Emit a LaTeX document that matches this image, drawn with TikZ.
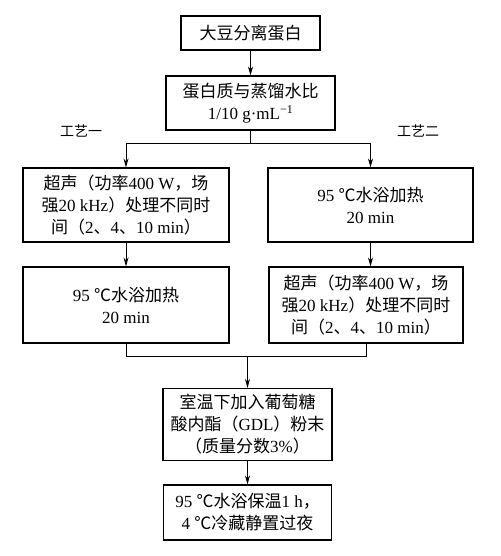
\documentclass[tikz,border=0pt]{standalone}
\usepackage{fontspec}
\setmainfont{Liberation Serif}
\newfontfamily\cjk{Noto Sans CJK SC}
\usetikzlibrary{arrows.meta}

\newcommand{\usound}{{\cjk 超声（功率}400 W{\cjk ，场}\\{\cjk 强}20 kHz{\cjk ）处理不同时}\\{\cjk 间（}2{\cjk 、}4{\cjk 、}10 min{\cjk ）}}
\newcommand{\hotbath}{95 {\cjk ℃水浴加热}\\20 min}

\begin{document}
\begin{tikzpicture}[x=1pt,y=-1pt,>={Stealth[length=9pt,width=5pt]},line width=0.9pt]
    \tikzstyle{stepbox}=[draw,line width=1.1pt,align=center,inner sep=0pt,font=\fontsize{17}{22}\selectfont]
    \tikzstyle{route}=[font=\cjk\fontsize{14}{14}\selectfont]
    \useasboundingbox (0,0) rectangle (500,556);

    % common steps at the top
    \node[stepbox,minimum width=139pt,minimum height=34pt] (soy) at (250.5,33) {\cjk 大豆分离蛋白};
    \node[stepbox,minimum width=169pt,minimum height=54pt] (ratio) at (250.5,103)
        {{\cjk 蛋白质与蒸馏水比}\\1/10 g·mL\textsuperscript{−1}};
    \node[route] (route1) at (81,131) {工艺一};
    \node[route] (route2) at (418,131) {工艺二};

    % left branch
    \node[stepbox,minimum width=206pt,minimum height=74pt] (left1) at (126,205) {\usound};
    \node[stepbox,minimum width=206pt,minimum height=76pt] (left2) at (126,305) {\hotbath};

    % right branch
    \node[stepbox,minimum width=205pt,minimum height=74pt] (right1) at (370.5,205) {\hotbath};
    \node[stepbox,minimum width=194pt,minimum height=76pt] (right2) at (366,305) {\usound};

    % common steps at the bottom
    \node[stepbox,minimum width=169pt,minimum height=72pt] (gdl) at (247.5,424.5)
        {{\cjk 室温下加入葡萄糖}\\{\cjk 酸内酯（}GDL{\cjk ）粉末}\\{\cjk （质量分数}3\%{\cjk ）}};
    \node[stepbox,minimum width=168pt,minimum height=55pt] (gel) at (247.5,512.5)
        {95 {\cjk ℃水浴保温}1 h{\cjk ，}\\4 {\cjk ℃冷藏静置过夜}};

    % split into the two routes
    \coordinate (split) at (250.5,143);
    \draw[->] (soy) -- (ratio);
    \draw (ratio.south) -- (split);
    \draw[->] (split) -| (left1.north);
    \draw[->] (split) -| (right1.north);
    \draw[->] (left1) -- (left2);
    \draw[->] (right1.south) -- (right1.south |- right2.north);

    % join the two routes again
    \coordinate (merge) at (247.5,356);
    \draw (left2.south) |- (merge);
    \draw (right2.south) |- (merge);
    \draw[->] (merge) -- (gdl.north);
    \draw[->] (gdl) -- (gel);
  \end{tikzpicture}
\end{document}
